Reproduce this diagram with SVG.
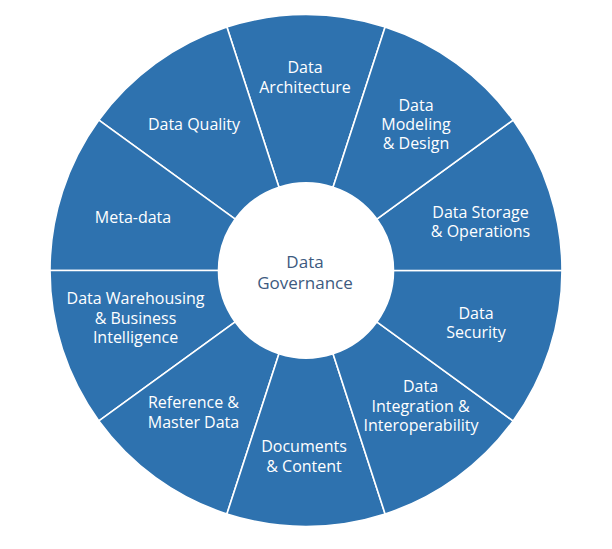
<svg xmlns="http://www.w3.org/2000/svg" width="612" height="549" viewBox="0 0 612 549">
<style>
.seg{fill:#2e72af;stroke:#ffffff;stroke-width:1.6;stroke-linejoin:miter}
.lbl{font-family:"Open Sans","Noto Sans","Liberation Sans",sans-serif;font-size:16px;fill:#ffffff;text-anchor:middle}
.ctr{font-family:"Open Sans","Noto Sans","Liberation Sans",sans-serif;font-size:17px;fill:#3d5a80;text-anchor:middle}
</style>
<rect width="612" height="549" fill="#ffffff"/>
<g id="connectors"></g>
<g id="data-architecture">
<path class="seg" d="M385.11 27.03 A256 256 0 0 0 226.89 27.03 L278.96 187.28 A87.5 87.5 0 0 1 333.04 187.28 Z"/>
<text class="lbl" x="305" y="73">Data</text>
<text class="lbl" x="305" y="92.5">Architecture</text>
</g>
<g id="data-quality">
<path class="seg" d="M226.89 27.03 A256 256 0 0 0 98.89 120.03 L235.21 219.07 A87.5 87.5 0 0 1 278.96 187.28 Z"/>
<text class="lbl" x="194" y="130">Data Quality</text>
</g>
<g id="meta-data">
<path class="seg" d="M98.89 120.03 A256 256 0 0 0 50 270.5 L218.5 270.5 A87.5 87.5 0 0 1 235.21 219.07 Z"/>
<text class="lbl" x="133" y="222.7">Meta-data</text>
</g>
<g id="data-warehousing">
<path class="seg" d="M50 270.5 A256 256 0 0 0 98.89 420.97 L235.21 321.93 A87.5 87.5 0 0 1 218.5 270.5 Z"/>
<text class="lbl" x="135.5" y="304">Data Warehousing</text>
<text class="lbl" x="135.5" y="323.5">&amp; Business</text>
<text class="lbl" x="135.5" y="342.5">Intelligence</text>
</g>
<g id="reference-master-data">
<path class="seg" d="M98.89 420.97 A256 256 0 0 0 226.89 513.97 L278.96 353.72 A87.5 87.5 0 0 1 235.21 321.93 Z"/>
<text class="lbl" x="193.5" y="408.3">Reference &amp;</text>
<text class="lbl" x="193.5" y="427.7">Master Data</text>
</g>
<g id="documents-content">
<path class="seg" d="M226.89 513.97 A256 256 0 0 0 385.11 513.97 L333.04 353.72 A87.5 87.5 0 0 1 278.96 353.72 Z"/>
<text class="lbl" x="304" y="452.3">Documents</text>
<text class="lbl" x="304" y="472.3">&amp; Content</text>
</g>
<g id="data-integration">
<path class="seg" d="M385.11 513.97 A256 256 0 0 0 513.11 420.97 L376.79 321.93 A87.5 87.5 0 0 1 333.04 353.72 Z"/>
<text class="lbl" x="420.5" y="391.7">Data</text>
<text class="lbl" x="420.5" y="411.5">Integration &amp;</text>
<text class="lbl" x="421" y="430.7">Interoperability</text>
</g>
<g id="data-security">
<path class="seg" d="M513.11 420.97 A256 256 0 0 0 562 270.5 L393.5 270.5 A87.5 87.5 0 0 1 376.79 321.93 Z"/>
<text class="lbl" x="476" y="319.3">Data</text>
<text class="lbl" x="476" y="337.7">Security</text>
</g>
<g id="data-storage">
<path class="seg" d="M562 270.5 A256 256 0 0 0 513.11 120.03 L376.79 219.07 A87.5 87.5 0 0 1 393.5 270.5 Z"/>
<text class="lbl" x="480.5" y="217.7">Data Storage</text>
<text class="lbl" x="480.5" y="237">&amp; Operations</text>
</g>
<g id="data-modeling">
<path class="seg" d="M513.11 120.03 A256 256 0 0 0 385.11 27.03 L333.04 187.28 A87.5 87.5 0 0 1 376.79 219.07 Z"/>
<text class="lbl" x="416" y="110.7">Data</text>
<text class="lbl" x="416" y="129.5">Modeling</text>
<text class="lbl" x="416" y="148.7">&amp; Design</text>
</g>
<g id="data-governance">
<circle cx="306" cy="270.5" r="87.5" fill="#ffffff"/>
<text class="ctr" x="305" y="268.3">Data</text>
<text class="ctr" x="305" y="289">Governance</text>
</g>
</svg>
